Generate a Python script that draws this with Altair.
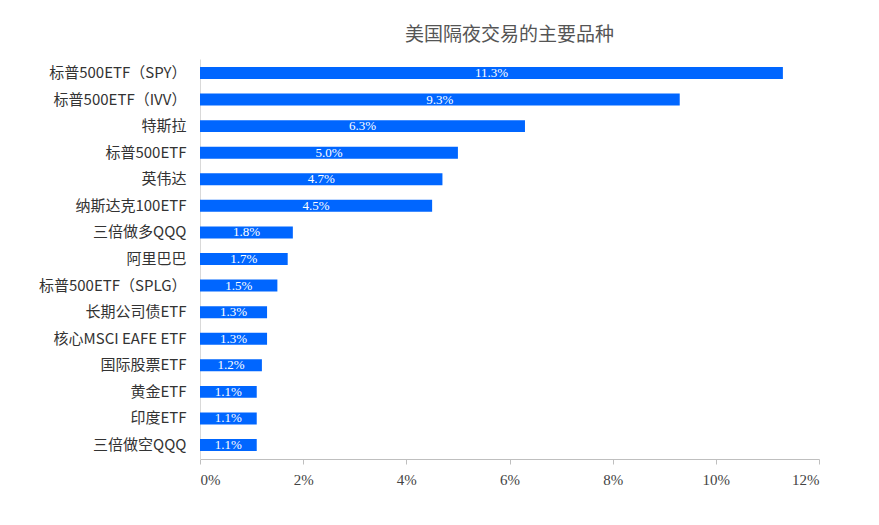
import altair as alt
import pandas as pd

names = ["标普500ETF（SPY）", "标普500ETF（IVV）", "特斯拉", "标普500ETF", "英伟达",
         "纳斯达克100ETF", "三倍做多QQQ", "阿里巴巴", "标普500ETF（SPLG）", "长期公司债ETF",
         "核心MSCI EAFE ETF", "国际股票ETF", "黄金ETF", "印度ETF", "三倍做空QQQ"]
shares = [0.113, 0.093, 0.063, 0.050, 0.047, 0.045, 0.018, 0.017, 0.015, 0.013,
          0.013, 0.012, 0.011, 0.011, 0.011]

df = pd.DataFrame({"name": names, "share": shares})
df["mid"] = df["share"] / 2

FONT = "Noto Sans CJK SC"

y = alt.Y("name:N", sort=names, title=None,
          scale=alt.Scale(paddingInner=0.55, paddingOuter=0.3),
          axis=alt.Axis(ticks=False, domainColor="#d9d9d9", labelFontSize=15,
                        labelColor="#333", labelPadding=14, labelFont=FONT))

bars = alt.Chart(df).mark_bar(color="#0066ff").encode(
    x=alt.X("share:Q", title=None,
            scale=alt.Scale(domain=[0, 0.12]),
            axis=alt.Axis(format=".0%", values=[0, 0.02, 0.04, 0.06, 0.08, 0.10, 0.12],
                          grid=False, domainColor="#bfbfbf", tickColor="#bfbfbf",
                          labelFontSize=15, labelColor="#444", labelPadding=8,
                          labelFont="Liberation Serif")),
    y=y,
)

labels = alt.Chart(df).mark_text(color="white", fontSize=13, font="Liberation Serif").encode(
    x="mid:Q", y=alt.Y("name:N", sort=names), text=alt.Text("share:Q", format=".1%"),
)

chart = (bars + labels).properties(
    width=619, height=400,
    padding={"left": 30, "top": 18, "right": 10, "bottom": 5},
    title=alt.Title("美国隔夜交易的主要品种", fontSize=19, font=FONT,
                    fontWeight="normal", color="#555", offset=14),
).configure_view(strokeWidth=0)

chart.save("out.html", embed_options={"renderer": "svg", "actions": False})
